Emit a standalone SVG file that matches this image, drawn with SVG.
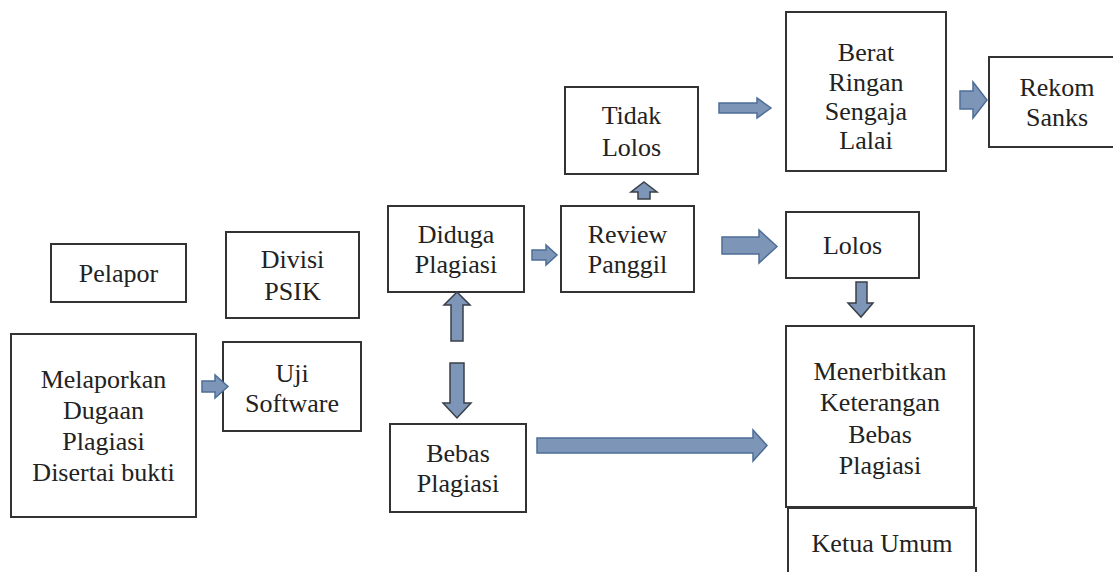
<svg xmlns="http://www.w3.org/2000/svg" width="1113" height="572" viewBox="0 0 1113 572">
<style>
.box{fill:#fff;stroke:#333;stroke-width:2}
.lbl{font-family:"Liberation Serif",serif;font-size:26px;fill:#222;text-anchor:middle}
.ah{fill:#7d95b6;stroke:#4d6d98;stroke-width:1.5;stroke-linejoin:miter}
.av{fill:#7d95b6;stroke:#3a3f48;stroke-width:1.5;stroke-linejoin:miter}
</style>
<rect width="1113" height="572" fill="#fff"/>
<g id="pelapor"><rect class="box" x="51" y="244" width="135" height="58"/><text class="lbl" style="font-family:'Liberation Serif'" x="118.5" y="282">Pelapor</text></g>
<g id="divisi"><rect class="box" x="226" y="232" width="133" height="86"/><text class="lbl" style="font-family:'Liberation Serif'" x="292.5" y="268">Divisi</text><text class="lbl" style="font-family:'Liberation Serif'" x="292.5" y="300">PSIK</text></g>
<g id="melaporkan"><rect class="box" x="11" y="334" width="185" height="183"/><text class="lbl" style="font-family:'Liberation Serif'" x="103.5" y="388">Melaporkan</text><text class="lbl" style="font-family:'Liberation Serif'" x="103.5" y="419">Dugaan</text><text class="lbl" style="font-family:'Liberation Serif'" x="103.5" y="450">Plagiasi</text><text class="lbl" style="font-family:'Liberation Serif'" x="103.5" y="481">Disertai bukti</text></g>
<g id="uji"><rect class="box" x="223" y="342" width="138" height="89"/><text class="lbl" style="font-family:'Liberation Serif'" x="292" y="382">Uji</text><text class="lbl" style="font-family:'Liberation Serif'" x="292" y="412">Software</text></g>
<g id="diduga"><rect class="box" x="388" y="206" width="136" height="86"/><text class="lbl" style="font-family:'Liberation Serif'" x="456" y="243">Diduga</text><text class="lbl" style="font-family:'Liberation Serif'" x="456" y="273">Plagiasi</text></g>
<g id="review"><rect class="box" x="561" y="206" width="133" height="86"/><text class="lbl" style="font-family:'Liberation Serif'" x="627.5" y="243">Review</text><text class="lbl" style="font-family:'Liberation Serif'" x="627.5" y="273">Panggil</text></g>
<g id="bebas"><rect class="box" x="390" y="424" width="136" height="88"/><text class="lbl" style="font-family:'Liberation Serif'" x="458" y="462">Bebas</text><text class="lbl" style="font-family:'Liberation Serif'" x="458" y="492">Plagiasi</text></g>
<g id="tidak"><rect class="box" x="565" y="87" width="133" height="87"/><text class="lbl" style="font-family:'Liberation Serif'" x="631.5" y="124">Tidak</text><text class="lbl" style="font-family:'Liberation Serif'" x="631.5" y="156">Lolos</text></g>
<g id="berat"><rect class="box" x="786" y="12" width="160" height="159"/><text class="lbl" style="font-family:'Liberation Serif'" x="866" y="61">Berat</text><text class="lbl" style="font-family:'Liberation Serif'" x="866" y="91">Ringan</text><text class="lbl" style="font-family:'Liberation Serif'" x="866" y="120">Sengaja</text><text class="lbl" style="font-family:'Liberation Serif'" x="866" y="149">Lalai</text></g>
<g id="rekom"><rect class="box" x="989" y="57" width="140" height="90"/><text class="lbl" style="font-family:'Liberation Serif'" x="1057" y="96">Rekom</text><text class="lbl" style="font-family:'Liberation Serif'" x="1057" y="126">Sanks</text></g>
<g id="lolos"><rect class="box" x="786" y="212" width="133" height="66"/><text class="lbl" style="font-family:'Liberation Serif'" x="852.5" y="254">Lolos</text></g>
<g id="menerbitkan"><rect class="box" x="786" y="326" width="188" height="181"/><text class="lbl" style="font-family:'Liberation Serif'" x="880" y="380">Menerbitkan</text><text class="lbl" style="font-family:'Liberation Serif'" x="880" y="411">Keterangan</text><text class="lbl" style="font-family:'Liberation Serif'" x="880" y="443">Bebas</text><text class="lbl" style="font-family:'Liberation Serif'" x="880" y="474">Plagiasi</text></g>
<g id="ketua"><rect class="box" x="788" y="508" width="188" height="80"/><text class="lbl" style="font-family:'Liberation Serif'" x="882" y="552">Ketua Umum</text></g>
<g id="connectors">
<polygon class="ah" points="202,381 215,381 215,375 228,386.5 215,398 215,392 202,392"/>
<polygon class="ah" points="532,250 546,250 546,245 557,255 546,265 546,260 532,260"/>
<polygon class="av" points="457,292 470,305 463,305 463,341 451,341 451,305 444,305"/>
<polygon class="av" points="450,363 464,363 464,403 471,403 457,418 443,403 450,403"/>
<polygon class="ah" points="537,438 753,438 753,430 767,445.5 753,461 753,453 537,453"/>
<polygon class="av" points="644,182 657,192 650,192 650,199 638,199 638,192 631,192"/>
<polygon class="ah" points="719,103 757,103 757,98 771,108 757,118 757,113 719,113"/>
<polygon class="ah" points="722,237 759,237 759,230 777,246.5 759,263 759,254 722,254"/>
<polygon class="av" points="856,282 867,282 867,303 873,303 861,317 848,303 856,303"/>
<polygon class="ah" points="960,91 973,91 973,82 987,100 973,118 973,109 960,109"/>
</g>
</svg>
